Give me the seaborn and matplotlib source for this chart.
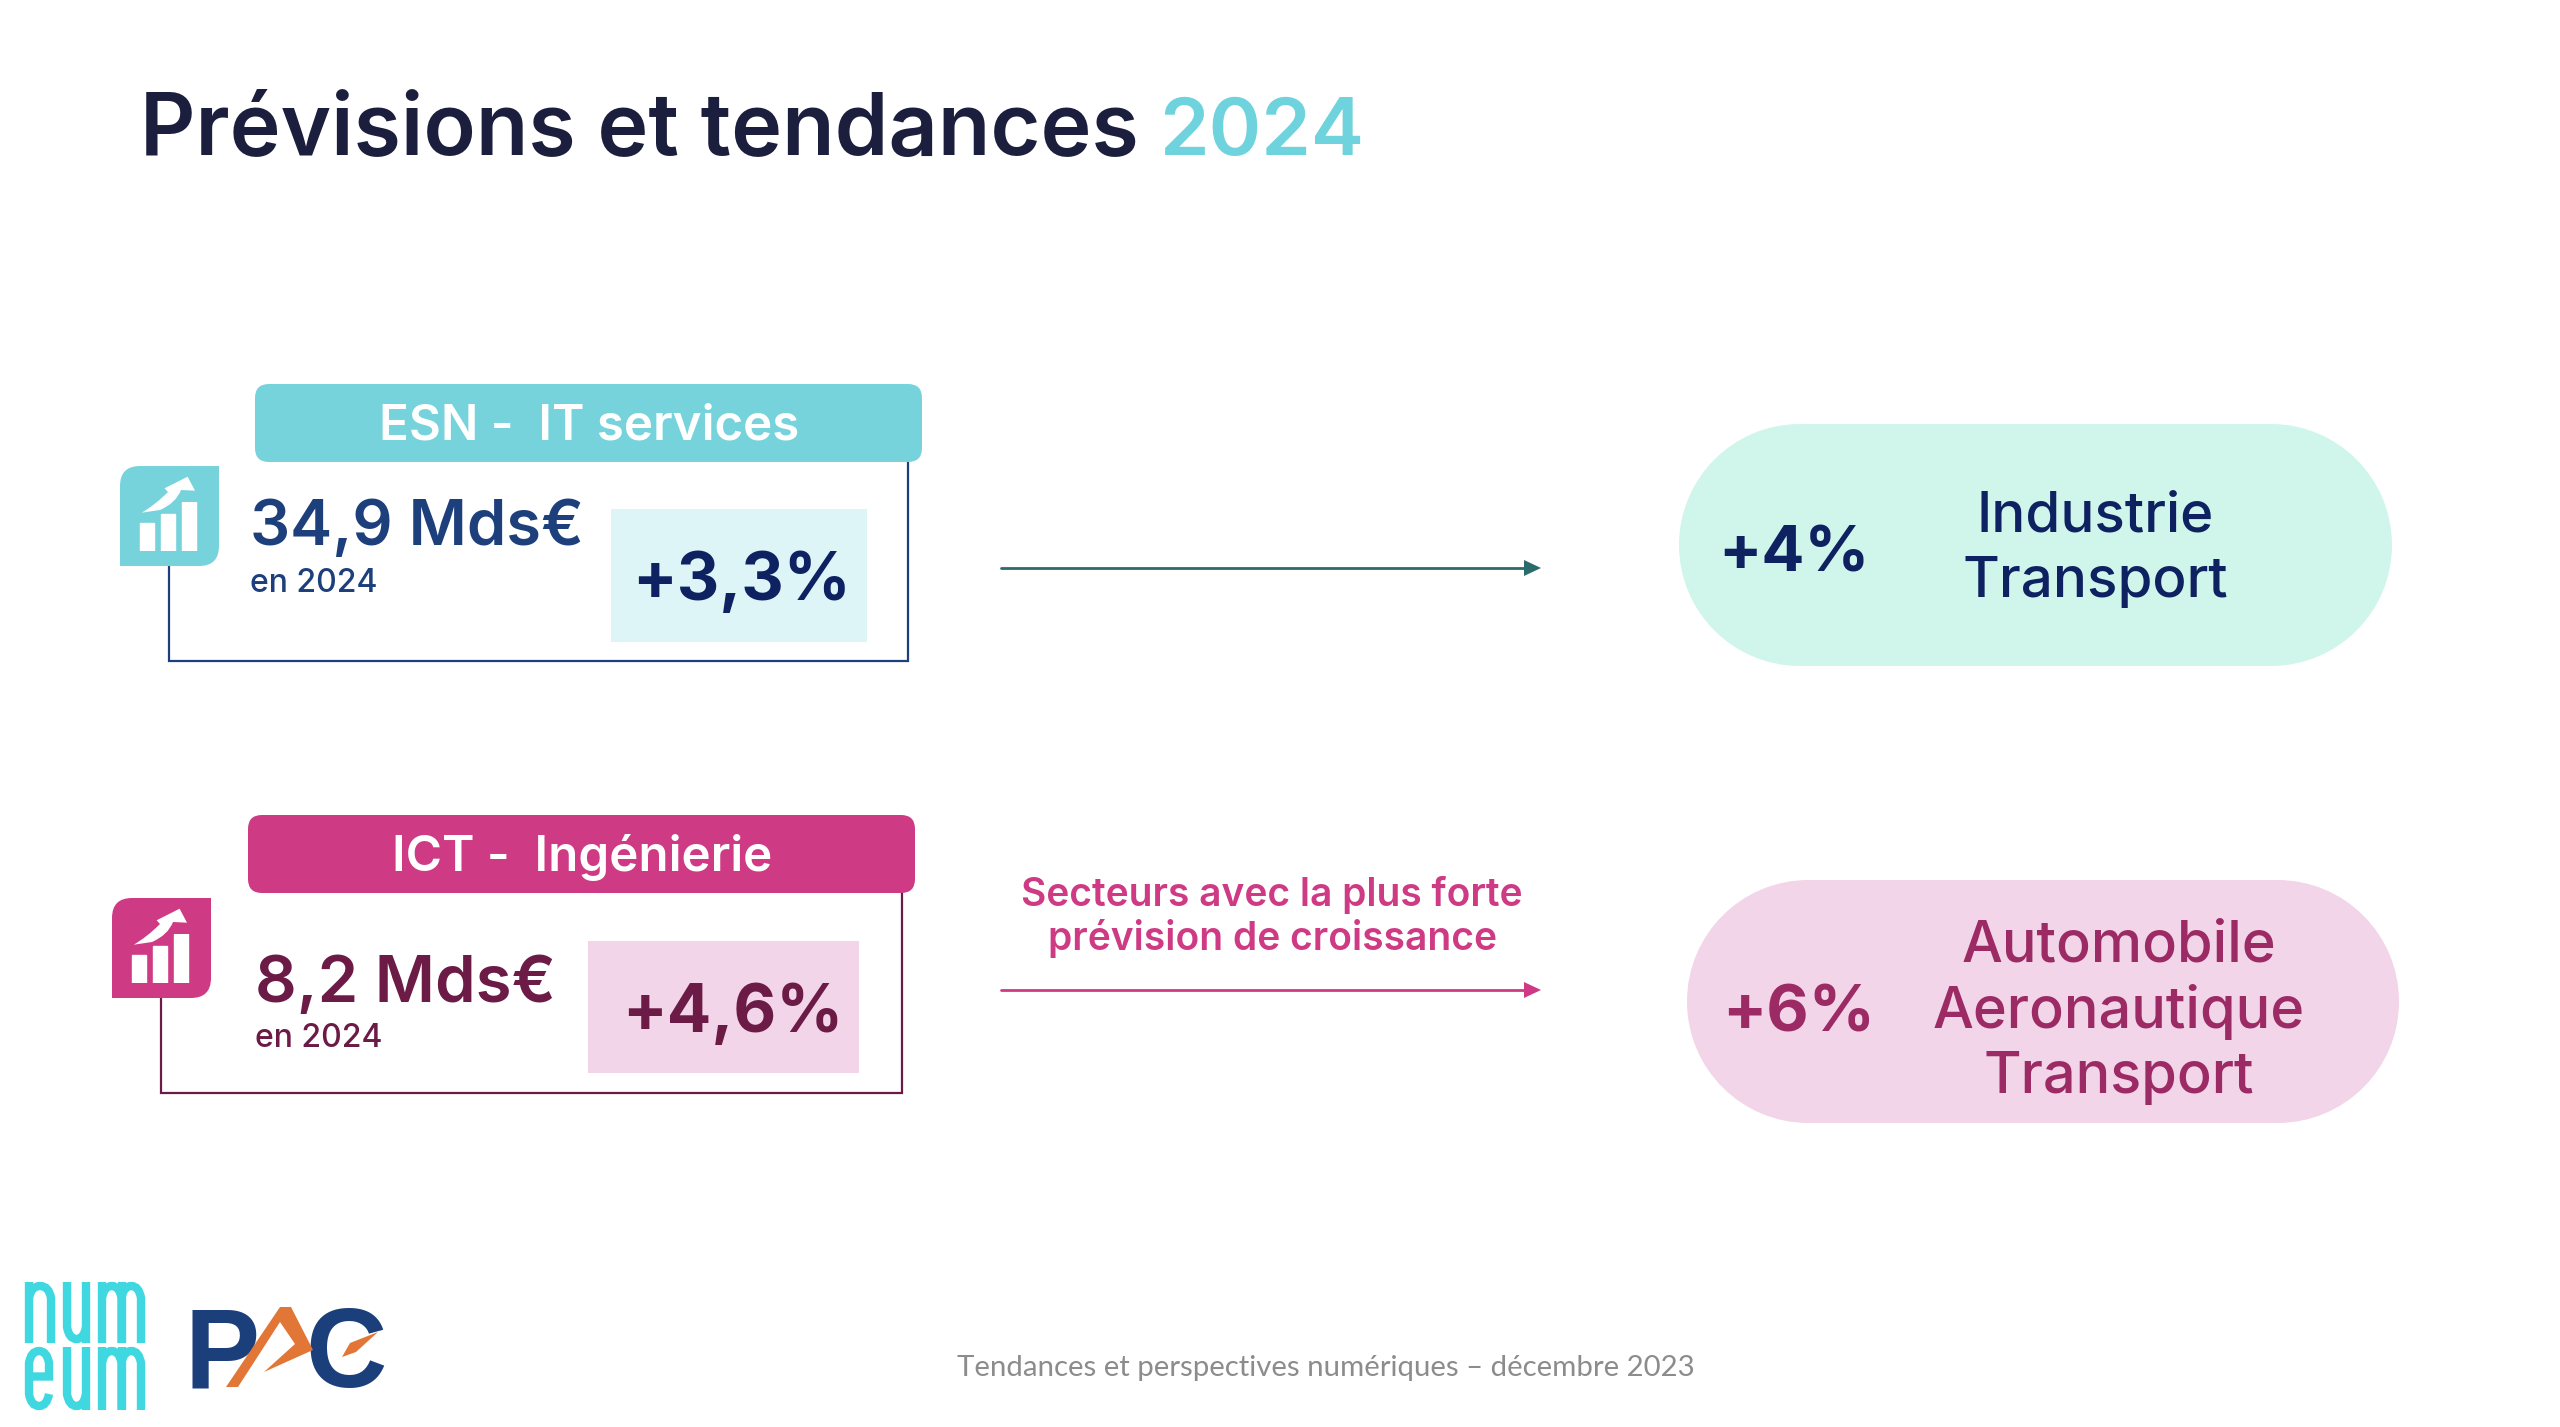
import matplotlib
matplotlib.use("Agg")
import matplotlib.pyplot as plt
from matplotlib.patches import FancyBboxPatch, PathPatch, Rectangle, Polygon
from matplotlib.path import Path
import pandas as pd
import seaborn as sns

# ---------- content ----------
title_main = "Prévisions et tendances"
title_year = "2024"
segments = ["ESN -  IT services", "ICT -  Ingénierie"]
market_values = ["34,9 Mds€", "8,2 Mds€"]
market_year = "en 2024"
market_growth = ["+3,3%", "+4,6%"]
sector_growth = ["+4%", "+6%"]
sectors_esn = ["Industrie", "Transport"]
sectors_ict = ["Automobile", "Aeronautique", "Transport"]
arrow_caption = ["Secteurs avec la plus forte", "prévision de croissance"]
footer = "Tendances et perspectives numériques – décembre 2023"
icon_bar_levels = [28, 37, 49]

TEAL = "#76D3DC"
PINK = "#CE3A83"
NAVY = "#0E2160"
BLUE = "#1D3F7C"
PLUM = "#6B1B45"
WINE = "#9C2A64"
FONT = "Inter"

sns.set_theme(style="white")
plt.rcParams["font.family"] = [FONT, "DejaVu Sans"]
W, H = 2560, 1427
fig = plt.figure(figsize=(W / 100, H / 100), dpi=100, facecolor="white")
ax = fig.add_axes([0, 0, 1, 1])
ax.set_xlim(0, W)
ax.set_ylim(H, 0)
ax.axis("off")


def txt(x, y, s, size, color, weight=500, ha="left", family=None):
    ax.text(x, y, s, fontsize=size, color=color, fontweight=weight, ha=ha, va="baseline",
            family=family or [FONT, "DejaVu Sans"], zorder=6)


def rbox(x0, y0, x1, y1, r, color, z=2):
    ax.add_patch(FancyBboxPatch((x0, y0), x1 - x0, y1 - y0, boxstyle=f"round,pad=0,rounding_size={r}",
                                fc=color, ec="none", zorder=z))


def pill(x0, y0, x1, y1, color):
    r = (y1 - y0) / 2
    k = 0.5523 * r
    ym = (y0 + y1) / 2
    v = [(x0 + r, y0), (x1 - r, y0),
         (x1 - r + k, y0), (x1, ym - k), (x1, ym),
         (x1, ym + k), (x1 - r + k, y1), (x1 - r, y1),
         (x0 + r, y1),
         (x0 + r - k, y1), (x0, ym + k), (x0, ym),
         (x0, ym - k), (x0 + r - k, y0), (x0 + r, y0)]
    c = [Path.MOVETO, Path.LINETO] + [Path.CURVE4] * 6 + [Path.LINETO] + [Path.CURVE4] * 6
    ax.add_patch(PathPatch(Path(v, c), fc=color, ec="none", zorder=2))


def icon(dx, dy, color):
    x0, y0, x1, y1, r = 120 + dx, 466 + dy, 219 + dx, 566 + dy, 20
    verts = [(x0, y0 + r), (x0, y0), (x0 + r, y0), (x1, y0), (x1, y1 - r), (x1, y1), (x1 - r, y1),
             (x0, y1), (x0, y0 + r)]
    codes = [Path.MOVETO, Path.CURVE3, Path.CURVE3, Path.LINETO, Path.LINETO, Path.CURVE3, Path.CURVE3,
             Path.LINETO, Path.LINETO]
    ax.add_patch(PathPatch(Path(verts, codes), fc=color, ec="none", zorder=3))
    a = [(141.7, 512.7), (155, 505), (168, 492), (164.6, 488.3), (187.6, 476.7), (195, 490.7), (181, 490),
         (176, 503), (160, 510), (141.7, 512.7)]
    c = [Path.MOVETO, Path.CURVE3, Path.CURVE3, Path.LINETO, Path.LINETO, Path.LINETO, Path.LINETO,
         Path.CURVE3, Path.CURVE3, Path.LINETO]
    ax.add_patch(PathPatch(Path([(x + dx, y + dy) for x, y in a], c), fc="white", ec="none", zorder=4))
    # small bars of the pictogram, drawn with seaborn
    left, right, bottom, top = 136.5 + dx, 199.5 + dx, 551 + dy, 502 + dy
    iax = fig.add_axes([left / W, 1 - bottom / H, (right - left) / W, (bottom - top) / H], zorder=5)
    df = pd.DataFrame({"bar": ["a", "b", "c"], "level": icon_bar_levels})
    sns.barplot(df, x="bar", y="level", color="white", width=0.64, saturation=1, ax=iax)
    iax.set_ylim(0, max(icon_bar_levels))
    iax.set_xlim(-0.5, 2.5)
    iax.axis("off")
    iax.patch.set_alpha(0)


def outline(xl, xr, ytop, yicon, ybot, color):
    ax.plot([xl, xl, xr, xr], [yicon, ybot, ybot, ytop], color=color, lw=1.6, zorder=1, solid_joinstyle="miter")


def arrow(y, color):
    ax.plot([1001, 1530], [y, y], color=color, lw=2.0, zorder=2)
    ax.add_patch(Polygon([(1524, y - 8), (1541, y), (1524, y + 8)], fc=color, ec="none", zorder=3))


# title
txt(140, 155, title_main, 62, "#1B1E3D", 600)
txt(1159, 155, title_year, 57.5, "#6FD3DE", 600)

# block 1
outline(168.5, 908, 462, 566, 661, BLUE)
rbox(255, 384, 922, 462, 14, TEAL)
txt(589, 439, segments[0], 35.5, "white", 600, "center")
icon(0, 0, TEAL)
txt(250, 545, market_values[0], 45.5, BLUE, 600)
txt(250, 592, market_year, 23, BLUE, 500)
ax.add_patch(Rectangle((611, 509), 256, 133, fc="#DEF5F8", ec="none", zorder=2))
txt(741, 600, market_growth[0], 47.5, NAVY, 700, "center")

# block 2
outline(161, 902, 893, 998, 1093, PLUM)
rbox(248, 815, 915, 893, 14, PINK)
txt(582, 871, segments[1], 35.5, "white", 600, "center")
icon(-8, 432, PINK)
txt(255, 1002, market_values[1], 47, PLUM, 600)
txt(255, 1047, market_year, 23, PLUM, 500)
ax.add_patch(Rectangle((588, 941), 271, 132, fc="#F2D5E8", ec="none", zorder=2))
txt(733, 1032, market_growth[1], 47.5, PLUM, 700, "center")

# arrows
arrow(568, "#2B6B6B")
arrow(990, PINK)
txt(1272, 906, arrow_caption[0], 28, PINK, 600, "center")
txt(1272, 950, arrow_caption[1], 28, PINK, 600, "center")

# pills
pill(1679, 424, 2392, 666, "#D0F6EB")
pill(1687, 880, 2399, 1123, "#F2D5E8")
txt(1794, 572, sector_growth[0], 46, NAVY, 700, "center")
txt(1799, 1031, sector_growth[1], 47, WINE, 700, "center")
for s, b in zip(sectors_esn, [532, 597]):
    txt(2095, b, s, 40.7, NAVY, 500, "center")
for s, b in zip(sectors_ict, [962, 1028, 1093]):
    txt(2119, b, s, 41.5, WINE, 500, "center")

# footer
txt(957, 1376, footer, 21.2, "#8C8C8C", 400, family=["Lato", "DejaVu Sans"])

# numeum logo, stroked wordmark
LOGO = "#40D8E0"
lw = 6.0


def stroke(pts, codes):
    ax.add_patch(PathPatch(Path(pts, codes), fc="none", ec=LOGO, lw=lw, capstyle="butt", zorder=3))


def n_shape(x0, x1, yt, yb):
    m = (x0 + x1) / 2
    stroke([(x0, yb), (x0, yt)], [Path.MOVETO, Path.LINETO])
    stroke([(x0, yt + 16), (x0 + 2, yt + 4), (m, yt + 4), (x1 - 2, yt + 4), (x1, yt + 16), (x1, yb)],
           [Path.MOVETO, Path.CURVE3, Path.CURVE3, Path.CURVE3, Path.CURVE3, Path.LINETO])


def u_shape(x0, x1, yt, yb):
    m = (x0 + x1) / 2
    stroke([(x1, yb), (x1, yt)], [Path.MOVETO, Path.LINETO])
    stroke([(x0, yt), (x0, yb - 16), (x0 + 2, yb - 4), (m, yb - 4), (x1 - 2, yb - 4), (x1, yb - 16)],
           [Path.MOVETO, Path.LINETO, Path.CURVE3, Path.CURVE3, Path.CURVE3, Path.CURVE3])


def m_shape(x0, x1, yt, yb):
    n_shape(x0, (x0 + x1) / 2, yt, yb)
    n_shape((x0 + x1) / 2, x1, yt, yb)


def e_shape(x0, x1, yt, yb):
    m = (x0 + x1) / 2
    ym = (yt + yb) / 2 - 2
    stroke([(x0, ym), (x1, ym), (x1, yt + 16), (x1 - 2, yt + 4), (m, yt + 4), (x0 + 2, yt + 4), (x0, yt + 16),
            (x0, yb - 16), (x0 + 2, yb - 4), (m, yb - 4), (x1 - 2, yb - 4), (x1, yb - 16)],
           [Path.MOVETO, Path.LINETO, Path.LINETO, Path.CURVE3, Path.CURVE3, Path.CURVE3, Path.CURVE3,
            Path.LINETO, Path.CURVE3, Path.CURVE3, Path.CURVE3, Path.CURVE3])


n_shape(29, 51, 1282, 1343)
u_shape(67, 86, 1282, 1343)
m_shape(102, 141, 1282, 1343)
e_shape(29, 49, 1347, 1410)
u_shape(67, 86, 1347, 1410)
m_shape(102, 141, 1347, 1410)

# PAC logo
PB = "#1B3F7B"
txt(185, 1387, "P", 81, PB, 700, family=["Liberation Sans"])
txt(305, 1387, "C", 81, PB, 700, family=["Liberation Sans"])
ax.add_patch(Polygon([(226, 1387), (280, 1307), (291, 1307), (313, 1350), (264, 1372), (295, 1344), (280, 1322), (238, 1387)],
                     fc="#E27636", ec="none", zorder=7))
ax.add_patch(Polygon([(342, 1357), (350, 1343), (378, 1332), (356, 1352)], fc="#E27636", ec="none", zorder=7))

fig.savefig("out.png", dpi=100, facecolor="white")
